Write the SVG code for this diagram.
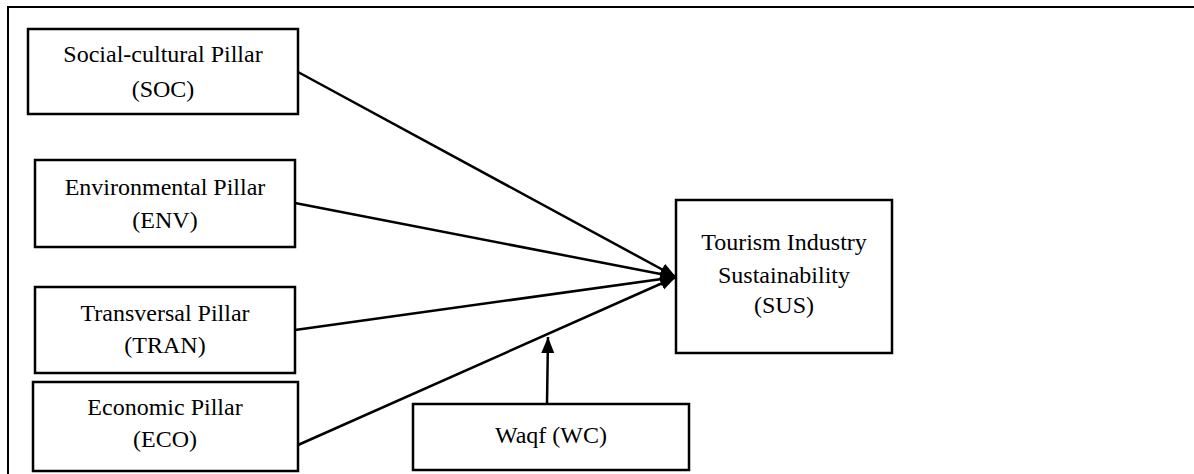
<svg xmlns="http://www.w3.org/2000/svg" width="1194" height="474" viewBox="0 0 1194 474">
<style>
.box{fill:#fff;stroke:#000;stroke-width:2.5}
.t{font-family:"Liberation Serif","Times New Roman",serif;font-size:24px;fill:#000;text-anchor:middle}
.c{stroke:#000;stroke-width:2.5;fill:none}
</style>
<defs>
<marker id="ah" markerUnits="userSpaceOnUse" markerWidth="18" markerHeight="18" viewBox="0 0 18 18" refX="16" refY="9" orient="auto">
<path d="M0,2.5 L16,9 L0,15.5 Z" fill="#000"/>
</marker>
</defs>
<rect x="0" y="0" width="1194" height="474" fill="#fff"/>
<path d="M8,474 L8,7 L1194,7" stroke="#000" stroke-width="2" fill="none"/>
<g id="connectors">
<line class="c" x1="298" y1="72" x2="676" y2="277" marker-end="url(#ah)"/>
<line class="c" x1="295" y1="203" x2="676" y2="277" marker-end="url(#ah)"/>
<line class="c" x1="295" y1="330" x2="676" y2="277" marker-end="url(#ah)"/>
<line class="c" x1="298" y1="445" x2="676" y2="277" marker-end="url(#ah)"/>
<line class="c" x1="547" y1="404" x2="548" y2="337" marker-end="url(#ah)"/>
</g>
<g id="soc">
<rect class="box" x="28" y="29" width="270" height="85"/>
<text class="t" x="163" y="62">Social-cultural Pillar</text>
<text class="t" x="163" y="97">(SOC)</text>
</g>
<g id="env">
<rect class="box" x="35" y="160" width="260" height="87"/>
<text class="t" x="165" y="195">Environmental Pillar</text>
<text class="t" x="165" y="228">(ENV)</text>
</g>
<g id="tran">
<rect class="box" x="35" y="287" width="260" height="86"/>
<text class="t" x="165" y="321">Transversal Pillar</text>
<text class="t" x="165" y="353">(TRAN)</text>
</g>
<g id="eco">
<rect class="box" x="33" y="382" width="265" height="89"/>
<text class="t" x="165" y="415">Economic Pillar</text>
<text class="t" x="165" y="447">(ECO)</text>
</g>
<g id="sus">
<rect class="box" x="676" y="200" width="216" height="153"/>
<text class="t" x="784" y="250">Tourism Industry</text>
<text class="t" x="784" y="283">Sustainability</text>
<text class="t" x="784" y="313">(SUS)</text>
</g>
<g id="wc">
<rect class="box" x="413" y="404" width="276" height="66"/>
<text class="t" x="551" y="443">Waqf (WC)</text>
</g>
</svg>
